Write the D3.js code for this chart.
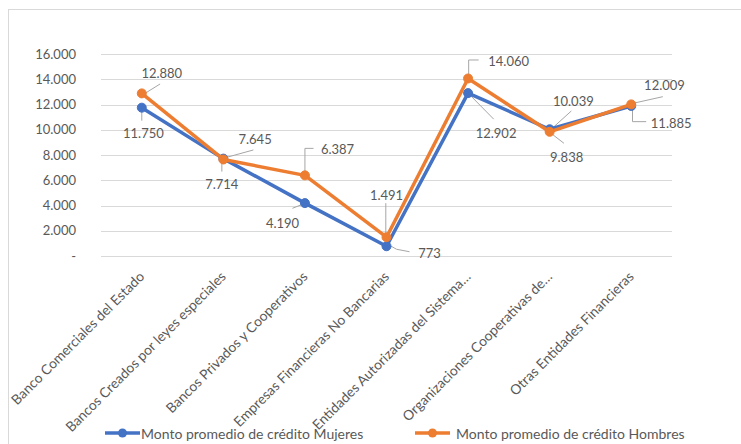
<!DOCTYPE html>
<html>
<head>
<meta charset="utf-8">
<script src="https://cdn.jsdelivr.net/npm/d3@7"></script>
<style>
  html, body { margin: 0; padding: 0; background: #fff; }
  svg { display: block; }
  text { font-family: Lato, "Open Sans", sans-serif; fill: #595959; }
</style>
</head>
<body>
<svg id="chart" width="741" height="444"></svg>
<script>
// Categories (entity types)
const categories = [
  "Banco Comerciales del Estado",
  "Bancos Creados por leyes especiales",
  "Bancos Privados y Cooperativos",
  "Empresas Financieras No Bancarias",
  "Entidades Autorizadas del Sistema…",
  "Organizaciones Cooperativas de…",
  "Otras Entidades Financieras"
];

// Average credit amount by sex
const mujeres = [11750, 7714, 4190, 773, 12902, 10039, 11885];
const hombres = [12880, 7645, 6387, 1491, 14060, 9838, 12009];

const seriesNames = ["Monto promedio de crédito Mujeres", "Monto promedio de crédito Hombres"];
const yTicks = [0, 2000, 4000, 6000, 8000, 10000, 12000, 14000, 16000];

const colors = ["#4472C4", "#ED7D31"];

// Data-label placement: label centre offset and leader path, relative to each point (px)
const labelLayout = [
  [ // Mujeres
    { dx: 1.6, dy: 25.6, leader: [[0, 2], [0, 13]] },
    { dx: -1.6, dy: 25.4, leader: [[-1.5, 3], [-1.5, 13]] },
    { dx: -22.4, dy: 20.2, leader: [[-2, 1], [-12.5, 5.2]] },
    { dx: 43, dy: 7, leader: [[3, -1], [10, 3], [23, 5.5]] },
    { dx: 28, dy: 39.6, leader: [[2, 2], [25.6, 26]] },
    { dx: 23.7, dy: -28.6, leader: [[3.7, -2], [21.7, -18.3]] },
    { dx: 40, dy: 16.7, leader: [[1.3, 0.7], [1.3, 15.7], [15, 15.7]] }
  ],
  [ // Hombres
    { dx: 20, dy: -20, leader: [[4, -0.5], [18.3, -9.4]] },
    { dx: 31.7, dy: -20.2, leader: [[3.4, -2.2], [30, -9.5]] },
    { dx: 32.6, dy: -26.1, leader: [[0, -3], [0, -27], [8.6, -27]] },
    { dx: 0, dy: -42.2, leader: [[-0.7, -2], [-0.7, -34]] },
    { dx: 40.6, dy: -17.8, leader: [[0.6, -3], [0.6, -18.5], [10.6, -18.5]] },
    { dx: 17, dy: 25.5, leader: [[2, 2], [14.3, 11.5]] },
    { dx: 33.3, dy: -19.4, leader: [[3.3, -1.4], [31.6, -7.7]] }
  ]
];

const svg = d3.select("#chart");

// Outer chart frame
svg.append("rect")
  .attr("x", 8.5).attr("y", 9.5)
  .attr("width", 800).attr("height", 500)
  .attr("fill", "#fff").attr("stroke", "#D9D9D9").attr("stroke-width", 1);

const plot = { left: 101, right: 672, top: 54, bottom: 256 };

const x = d3.scaleBand().domain(categories).range([plot.left, plot.right]);
const y = d3.scaleLinear().domain([0, 16000]).range([plot.bottom, plot.top]);
const cx = c => x(c) + x.bandwidth() / 2;

const fmt = v => v === 0 ? "-" : d3.format(",")(v).replace(/,/g, ".");

// Horizontal gridlines
svg.append("g").selectAll("line").data(yTicks).join("line")
  .attr("x1", plot.left).attr("x2", plot.right)
  .attr("y1", d => Math.round(y(d)) + 0.5).attr("y2", d => Math.round(y(d)) + 0.5)
  .attr("stroke", "#D9D9D9").attr("stroke-width", 1);

// Y axis labels
const yAxis = d3.axisLeft(y).tickValues(yTicks).tickFormat(fmt).tickSize(0).tickPadding(0);
const gy = svg.append("g").attr("transform", `translate(${plot.left - 25},0)`).call(yAxis);
gy.select(".domain").remove();
gy.selectAll("text").style("font-size", "13px").style("font-family", "Lato, sans-serif").attr("fill", "#595959");

// Category labels, rotated
const xAxis = d3.axisBottom(x).tickSize(0).tickPadding(0);
const gx = svg.append("g").attr("transform", `translate(0,${plot.bottom})`).call(xAxis);
gx.select(".domain").remove();
gx.selectAll("text")
  .style("font-size", "13.8px").style("font-family", "Lato, sans-serif").attr("fill", "#595959")
  .attr("text-anchor", "end")
  .attr("dy", null).attr("y", null)
  .attr("transform", "translate(1,19) rotate(-45)")
  .attr("dominant-baseline", "middle");

const seriesData = [mujeres, hombres];

// Leader lines
const lineGen = d3.line();
seriesData.forEach((vals, s) => {
  svg.append("g").selectAll("path").data(vals).join("path")
    .attr("d", (v, i) => {
      const px = cx(categories[i]), py = y(v);
      return lineGen(labelLayout[s][i].leader.map(p => [px + p[0], py + p[1]]));
    })
    .attr("fill", "none").attr("stroke", "#A6A6A6").attr("stroke-width", 1);
});

// Series lines and markers
const line = d3.line().x((v, i) => cx(categories[i])).y(v => y(v));
seriesData.forEach((vals, s) => {
  const g = svg.append("g");
  g.append("path").datum(vals).attr("d", line)
    .attr("fill", "none").attr("stroke", colors[s]).attr("stroke-width", 3.5)
    .attr("stroke-linejoin", "round").attr("stroke-linecap", "round");
  g.selectAll("circle").data(vals).join("circle")
    .attr("cx", (v, i) => cx(categories[i])).attr("cy", v => y(v)).attr("r", 4.5)
    .attr("fill", colors[s]).attr("stroke", colors[s]).attr("stroke-width", 1);
});

// Data labels
seriesData.forEach((vals, s) => {
  svg.append("g").selectAll("text").data(vals).join("text")
    .attr("x", (v, i) => cx(categories[i]) + labelLayout[s][i].dx)
    .attr("y", (v, i) => y(v) + labelLayout[s][i].dy)
    .attr("text-anchor", "middle").attr("dominant-baseline", "central")
    .style("font-size", "13px")
    .text(fmt);
});

// Legend
const legendItems = [{ x: 105, tx: 141 }, { x: 415, tx: 456 }];
const lg = svg.append("g");
legendItems.forEach((it, s) => {
  const ly = 433;
  lg.append("line").attr("x1", it.x).attr("x2", it.x + 35).attr("y1", ly).attr("y2", ly)
    .attr("stroke", colors[s]).attr("stroke-width", 3.5);
  lg.append("circle").attr("cx", it.x + 17.5).attr("cy", ly).attr("r", 4.5).attr("fill", colors[s]);
  lg.append("text").attr("x", it.tx).attr("y", ly).attr("dominant-baseline", "central")
    .style("font-size", "14px").text(seriesNames[s]);
});
</script>
</body>
</html>
